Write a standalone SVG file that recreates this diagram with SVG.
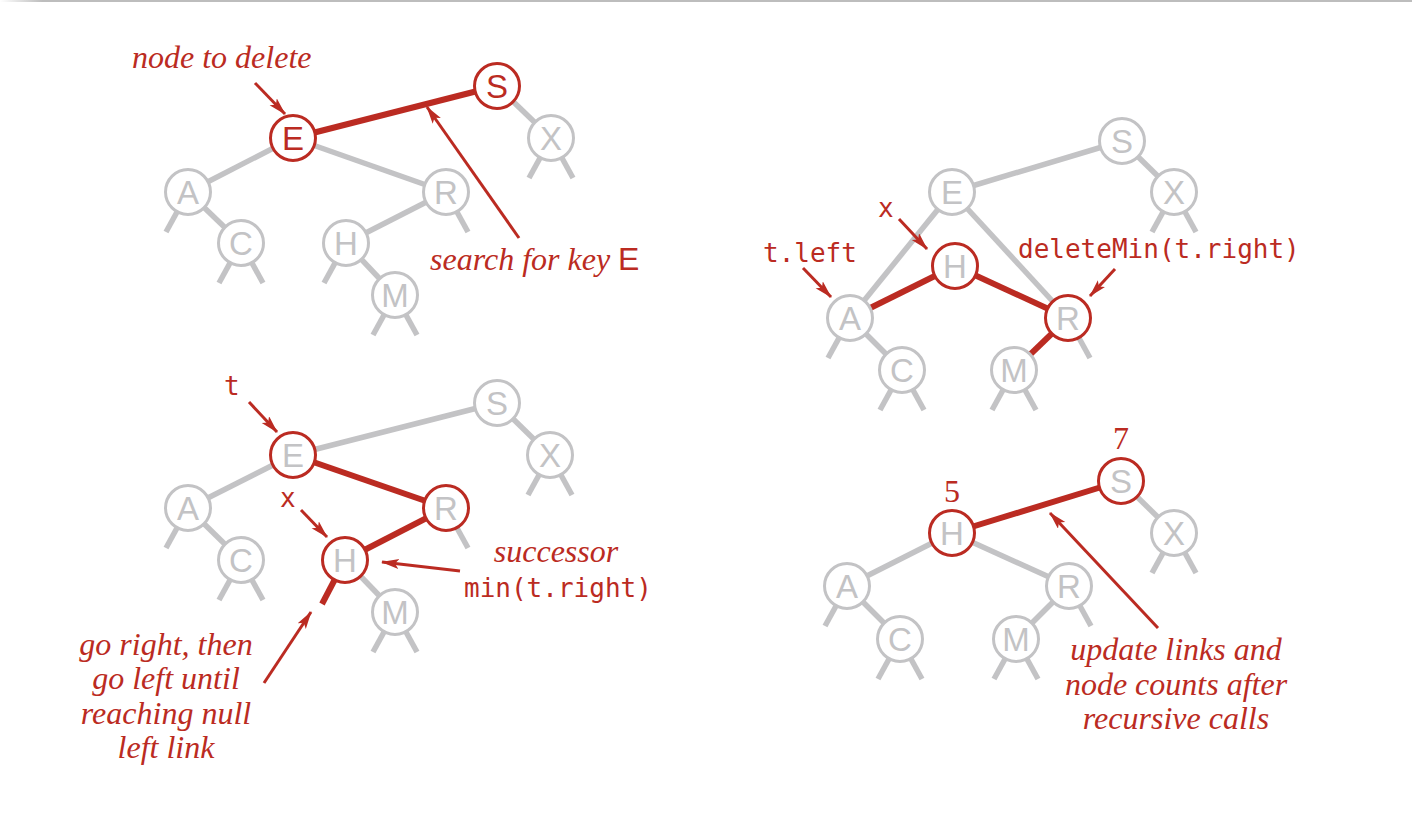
<svg xmlns="http://www.w3.org/2000/svg" width="1412" height="821" viewBox="0 0 1412 821">
<defs>
<linearGradient id="topg" x1="0" y1="0" x2="1" y2="0">
<stop offset="0" stop-color="#ffffff"/>
<stop offset="0.03" stop-color="#bdbdbd"/>
<stop offset="1" stop-color="#bdbdbd"/>
</linearGradient>
<marker id="ah" markerUnits="userSpaceOnUse" markerWidth="20" markerHeight="12" refX="17" refY="5" orient="auto">
<path d="M0,0 L18,5 L0,10 L4,5 Z" fill="#bb2b22"/>
</marker>
<style>
.lk{stroke:#c3c3c5;stroke-width:5.5;fill:none}
.rk{stroke:#bb2b22;stroke-width:6;fill:none}
.ar{stroke:#bb2b22;stroke-width:3;fill:none;marker-end:url(#ah)}
.nd circle{fill:#ffffff;stroke:#c3c3c5;stroke-width:3}
.nd.red circle{stroke:#bb2b22}
.nd text{font-family:"Liberation Sans Narrow","Liberation Sans",sans-serif;font-size:33px;fill:#c3c3c5;text-anchor:middle}
.nd.rl text{fill:#bb2b22}
.it{font-family:"Liberation Serif",serif;font-style:italic;font-size:32px;fill:#bb2b22}
.ctr{text-anchor:middle}
.mono{font-family:"DejaVu Sans Mono","Liberation Mono",monospace;font-size:26px;fill:#bb2b22}
.num{font-family:"Liberation Serif",serif;font-size:32px;fill:#bb2b22;text-anchor:middle}
.sans{font-family:"Liberation Sans",sans-serif;font-style:normal}
</style>
</defs>
<rect x="0" y="0" width="1412" height="821" fill="#ffffff"/>
<rect x="0" y="0" width="1412" height="2" fill="url(#topg)"/>

<g id="connectors">
<!-- diagram 1 -->
<line class="lk" x1="293" y1="138" x2="188" y2="192"/>
<line class="lk" x1="293" y1="138" x2="446" y2="192"/>
<line class="lk" x1="188" y1="192" x2="241" y2="243"/>
<line class="lk" x1="446" y1="192" x2="346" y2="243"/>
<line class="lk" x1="346" y1="243" x2="395" y2="295"/>
<line class="lk" x1="497" y1="86" x2="551" y2="138"/>
<line class="lk" x1="188" y1="192" x2="166" y2="232"/>
<line class="lk" x1="241" y1="243" x2="219" y2="283"/>
<line class="lk" x1="241" y1="243" x2="263" y2="283"/>
<line class="lk" x1="346" y1="243" x2="324" y2="283"/>
<line class="lk" x1="395" y1="295" x2="373" y2="335"/>
<line class="lk" x1="395" y1="295" x2="417" y2="335"/>
<line class="lk" x1="446" y1="192" x2="468" y2="232"/>
<line class="lk" x1="551" y1="138" x2="529" y2="178"/>
<line class="lk" x1="551" y1="138" x2="573" y2="178"/>
<line class="rk" x1="293" y1="138" x2="497" y2="86"/>
<line class="ar" x1="255" y1="83" x2="285" y2="114"/>
<line class="ar" x1="519" y1="238" x2="427" y2="107"/>

<!-- diagram 2 -->
<line class="lk" x1="1122" y1="141" x2="952" y2="192"/>
<line class="lk" x1="1122" y1="141" x2="1174" y2="192"/>
<line class="lk" x1="952" y1="192" x2="850" y2="318"/>
<line class="lk" x1="952" y1="192" x2="1068" y2="318"/>
<line class="lk" x1="850" y1="318" x2="902" y2="370"/>
<line class="lk" x1="850" y1="318" x2="828" y2="358"/>
<line class="lk" x1="902" y1="370" x2="880" y2="410"/>
<line class="lk" x1="902" y1="370" x2="924" y2="410"/>
<line class="lk" x1="1014" y1="370" x2="992" y2="410"/>
<line class="lk" x1="1014" y1="370" x2="1036" y2="410"/>
<line class="lk" x1="1068" y1="318" x2="1090" y2="358"/>
<line class="lk" x1="1174" y1="192" x2="1152" y2="232"/>
<line class="lk" x1="1174" y1="192" x2="1196" y2="232"/>
<line class="rk" x1="850" y1="318" x2="955" y2="266"/>
<line class="rk" x1="955" y1="266" x2="1068" y2="318"/>
<line class="rk" x1="1068" y1="318" x2="1014" y2="370"/>
<line class="ar" x1="899" y1="219" x2="927" y2="249"/>
<line class="ar" x1="803" y1="268" x2="831" y2="297"/>
<line class="ar" x1="1115" y1="269" x2="1090" y2="296"/>

<!-- diagram 3 -->
<line class="lk" x1="293" y1="455" x2="497" y2="403"/>
<line class="lk" x1="497" y1="403" x2="550" y2="455"/>
<line class="lk" x1="293" y1="455" x2="188" y2="508"/>
<line class="lk" x1="188" y1="508" x2="241" y2="560"/>
<line class="lk" x1="345" y1="560" x2="395" y2="612"/>
<line class="lk" x1="188" y1="508" x2="166" y2="548"/>
<line class="lk" x1="241" y1="560" x2="219" y2="600"/>
<line class="lk" x1="241" y1="560" x2="263" y2="600"/>
<line class="lk" x1="395" y1="612" x2="373" y2="652"/>
<line class="lk" x1="395" y1="612" x2="417" y2="652"/>
<line class="lk" x1="446" y1="508" x2="468" y2="548"/>
<line class="lk" x1="550" y1="455" x2="528" y2="495"/>
<line class="lk" x1="550" y1="455" x2="572" y2="495"/>
<line class="rk" x1="293" y1="455" x2="446" y2="508"/>
<line class="rk" x1="446" y1="508" x2="345" y2="560"/>
<line class="rk" x1="345" y1="560" x2="322" y2="604"/>
<line class="ar" x1="249" y1="402" x2="277" y2="432"/>
<line class="ar" x1="301" y1="510" x2="327" y2="537"/>
<line class="ar" x1="460" y1="571" x2="382" y2="562"/>
<line class="ar" x1="264" y1="683" x2="311" y2="612"/>

<!-- diagram 4 -->
<line class="lk" x1="1121" y1="481" x2="1174" y2="533"/>
<line class="lk" x1="952" y1="533" x2="847" y2="586"/>
<line class="lk" x1="952" y1="533" x2="1069" y2="586"/>
<line class="lk" x1="847" y1="586" x2="900" y2="639"/>
<line class="lk" x1="1069" y1="586" x2="1016" y2="639"/>
<line class="lk" x1="847" y1="586" x2="825" y2="626"/>
<line class="lk" x1="900" y1="639" x2="878" y2="679"/>
<line class="lk" x1="900" y1="639" x2="922" y2="679"/>
<line class="lk" x1="1016" y1="639" x2="994" y2="679"/>
<line class="lk" x1="1016" y1="639" x2="1038" y2="679"/>
<line class="lk" x1="1069" y1="586" x2="1091" y2="626"/>
<line class="lk" x1="1174" y1="533" x2="1152" y2="573"/>
<line class="lk" x1="1174" y1="533" x2="1196" y2="573"/>
<line class="rk" x1="952" y1="533" x2="1121" y2="481"/>
<line class="ar" x1="1158" y1="628" x2="1050" y2="513"/>
</g>

<!-- diagram 1 nodes -->
<g id="d1-S" class="nd red rl"><circle cx="497" cy="86" r="22.5"/><text x="497" y="98">S</text></g>
<g id="d1-E" class="nd red rl"><circle cx="293" cy="138" r="22.5"/><text x="293" y="150">E</text></g>
<g id="d1-X" class="nd"><circle cx="551" cy="138" r="22.5"/><text x="551" y="150">X</text></g>
<g id="d1-A" class="nd"><circle cx="188" cy="192" r="22.5"/><text x="188" y="204">A</text></g>
<g id="d1-R" class="nd"><circle cx="446" cy="192" r="22.5"/><text x="446" y="204">R</text></g>
<g id="d1-C" class="nd"><circle cx="241" cy="243" r="22.5"/><text x="241" y="255">C</text></g>
<g id="d1-H" class="nd"><circle cx="346" cy="243" r="22.5"/><text x="346" y="255">H</text></g>
<g id="d1-M" class="nd"><circle cx="395" cy="295" r="22.5"/><text x="395" y="307">M</text></g>

<!-- diagram 2 nodes -->
<g id="d2-S" class="nd"><circle cx="1122" cy="141" r="22.5"/><text x="1122" y="153">S</text></g>
<g id="d2-E" class="nd"><circle cx="952" cy="192" r="22.5"/><text x="952" y="204">E</text></g>
<g id="d2-X" class="nd"><circle cx="1174" cy="192" r="22.5"/><text x="1174" y="204">X</text></g>
<g id="d2-H" class="nd red"><circle cx="955" cy="266" r="22.5"/><text x="955" y="278">H</text></g>
<g id="d2-A" class="nd"><circle cx="850" cy="318" r="22.5"/><text x="850" y="330">A</text></g>
<g id="d2-R" class="nd red"><circle cx="1068" cy="318" r="22.5"/><text x="1068" y="330">R</text></g>
<g id="d2-C" class="nd"><circle cx="902" cy="370" r="22.5"/><text x="902" y="382">C</text></g>
<g id="d2-M" class="nd"><circle cx="1014" cy="370" r="22.5"/><text x="1014" y="382">M</text></g>

<!-- diagram 3 nodes -->
<g id="d3-S" class="nd"><circle cx="497" cy="403" r="22.5"/><text x="497" y="415">S</text></g>
<g id="d3-E" class="nd red"><circle cx="293" cy="455" r="22.5"/><text x="293" y="467">E</text></g>
<g id="d3-X" class="nd"><circle cx="550" cy="455" r="22.5"/><text x="550" y="467">X</text></g>
<g id="d3-A" class="nd"><circle cx="188" cy="508" r="22.5"/><text x="188" y="520">A</text></g>
<g id="d3-R" class="nd red"><circle cx="446" cy="508" r="22.5"/><text x="446" y="520">R</text></g>
<g id="d3-C" class="nd"><circle cx="241" cy="560" r="22.5"/><text x="241" y="572">C</text></g>
<g id="d3-H" class="nd red"><circle cx="345" cy="560" r="22.5"/><text x="345" y="572">H</text></g>
<g id="d3-M" class="nd"><circle cx="395" cy="612" r="22.5"/><text x="395" y="624">M</text></g>

<!-- diagram 4 nodes -->
<g id="d4-S" class="nd red"><circle cx="1121" cy="481" r="22.5"/><text x="1121" y="493">S</text></g>
<g id="d4-H" class="nd red"><circle cx="952" cy="533" r="22.5"/><text x="952" y="545">H</text></g>
<g id="d4-X" class="nd"><circle cx="1174" cy="533" r="22.5"/><text x="1174" y="545">X</text></g>
<g id="d4-A" class="nd"><circle cx="847" cy="586" r="22.5"/><text x="847" y="598">A</text></g>
<g id="d4-R" class="nd"><circle cx="1069" cy="586" r="22.5"/><text x="1069" y="598">R</text></g>
<g id="d4-C" class="nd"><circle cx="900" cy="639" r="22.5"/><text x="900" y="651">C</text></g>
<g id="d4-M" class="nd"><circle cx="1016" cy="639" r="22.5"/><text x="1016" y="651">M</text></g>

<g id="labels">
<text class="it" x="132" y="68">node to delete</text>
<text class="it" x="430" y="270">search for key <tspan class="sans">E</tspan></text>
<text class="mono" x="878" y="217">x</text>
<text class="mono" x="763" y="262">t.left</text>
<text class="mono" x="1018" y="258">deleteMin(t.right)</text>
<text class="mono" x="224" y="395">t</text>
<text class="mono" x="280" y="507">x</text>
<text class="it ctr" x="556" y="562">successor</text>
<text class="mono" x="464" y="597">min(t.right)</text>
<text class="it ctr" x="166" y="655">go right, then</text>
<text class="it ctr" x="166" y="689">go left until</text>
<text class="it ctr" x="166" y="724">reaching null</text>
<text class="it ctr" x="166" y="758">left link</text>
<text class="num" x="1121" y="449">7</text>
<text class="num" x="952" y="502">5</text>
<text class="it ctr" x="1176" y="660">update links and</text>
<text class="it ctr" x="1176" y="695">node counts after</text>
<text class="it ctr" x="1176" y="729">recursive calls</text>
</g>
</svg>
